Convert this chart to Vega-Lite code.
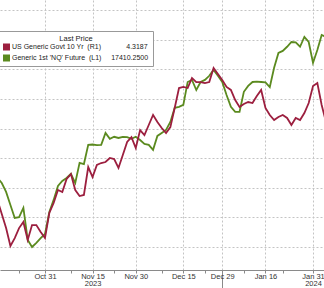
{
  "$schema": "https://vega.github.io/schema/vega-lite/v6.json",
  "width": 324,
  "height": 270,
  "autosize": {"type": "none"},
  "padding": {"left": 0, "top": 0, "right": 0, "bottom": 18},
  "background": "white",
  "config": {"view": {"stroke": null}, "font": "Liberation Sans"},
  "data": {"values": [
    {"d": "2023-10-16", "i": -11, "ust": 4.675, "nq": 15165},
    {"d": "2023-10-17", "i": -10, "ust": 4.769, "nq": 15080},
    {"d": "2023-10-18", "i": -9, "ust": 4.863, "nq": 14930},
    {"d": "2023-10-19", "i": -8, "ust": 4.983, "nq": 14710},
    {"d": "2023-10-20", "i": -7, "ust": 4.930, "nq": 14490},
    {"d": "2023-10-23", "i": -6, "ust": 4.863, "nq": 14505},
    {"d": "2023-10-24", "i": -5, "ust": 4.822, "nq": 14660},
    {"d": "2023-10-25", "i": -4, "ust": 4.943, "nq": 14120},
    {"d": "2023-10-26", "i": -3, "ust": 4.843, "nq": 14000},
    {"d": "2023-10-27", "i": -2, "ust": 4.843, "nq": 14070},
    {"d": "2023-10-30", "i": -1, "ust": 4.889, "nq": 14150},
    {"d": "2023-10-31", "i": 0, "ust": 4.930, "nq": 14220},
    {"d": "2023-11-01", "i": 1, "ust": 4.762, "nq": 14590},
    {"d": "2023-11-02", "i": 2, "ust": 4.695, "nq": 14795},
    {"d": "2023-11-03", "i": 3, "ust": 4.608, "nq": 15030},
    {"d": "2023-11-06", "i": 4, "ust": 4.621, "nq": 15115},
    {"d": "2023-11-07", "i": 5, "ust": 4.534, "nq": 15165},
    {"d": "2023-11-08", "i": 6, "ust": 4.501, "nq": 15235},
    {"d": "2023-11-09", "i": 7, "ust": 4.608, "nq": 15080},
    {"d": "2023-11-10", "i": 8, "ust": 4.648, "nq": 15420},
    {"d": "2023-11-13", "i": 9, "ust": 4.641, "nq": 15400},
    {"d": "2023-11-14", "i": 10, "ust": 4.454, "nq": 15725},
    {"d": "2023-11-15", "i": 11, "ust": 4.521, "nq": 15730},
    {"d": "2023-11-16", "i": 12, "ust": 4.440, "nq": 15720},
    {"d": "2023-11-17", "i": 13, "ust": 4.427, "nq": 15725},
    {"d": "2023-11-20", "i": 14, "ust": 4.420, "nq": 15925},
    {"d": "2023-11-21", "i": 15, "ust": 4.393, "nq": 15825},
    {"d": "2023-11-22", "i": 16, "ust": 4.400, "nq": 15860},
    {"d": "2023-11-24", "i": 17, "ust": 4.460, "nq": 15840},
    {"d": "2023-11-27", "i": 18, "ust": 4.373, "nq": 15860},
    {"d": "2023-11-28", "i": 19, "ust": 4.286, "nq": 15855},
    {"d": "2023-11-29", "i": 20, "ust": 4.253, "nq": 15825},
    {"d": "2023-11-30", "i": 21, "ust": 4.326, "nq": 15860},
    {"d": "2023-12-01", "i": 22, "ust": 4.206, "nq": 15805},
    {"d": "2023-12-04", "i": 23, "ust": 4.239, "nq": 15740},
    {"d": "2023-12-05", "i": 24, "ust": 4.172, "nq": 15725},
    {"d": "2023-12-06", "i": 25, "ust": 4.105, "nq": 15640},
    {"d": "2023-12-07", "i": 26, "ust": 4.152, "nq": 15875},
    {"d": "2023-12-08", "i": 27, "ust": 4.192, "nq": 15925},
    {"d": "2023-12-11", "i": 28, "ust": 4.226, "nq": 15975},
    {"d": "2023-12-12", "i": 29, "ust": 4.186, "nq": 16110},
    {"d": "2023-12-13", "i": 30, "ust": 4.058, "nq": 16350},
    {"d": "2023-12-14", "i": 31, "ust": 3.924, "nq": 16365},
    {"d": "2023-12-15", "i": 32, "ust": 3.917, "nq": 16400},
    {"d": "2023-12-18", "i": 33, "ust": 3.924, "nq": 16785},
    {"d": "2023-12-19", "i": 34, "ust": 3.857, "nq": 16820},
    {"d": "2023-12-20", "i": 35, "ust": 3.884, "nq": 16650},
    {"d": "2023-12-21", "i": 36, "ust": 3.884, "nq": 16785},
    {"d": "2023-12-22", "i": 37, "ust": 3.891, "nq": 16820},
    {"d": "2023-12-26", "i": 38, "ust": 3.884, "nq": 16890},
    {"d": "2023-12-27", "i": 39, "ust": 3.790, "nq": 16990},
    {"d": "2023-12-28", "i": 40, "ust": 3.830, "nq": 16890},
    {"d": "2023-12-29", "i": 41, "ust": 3.870, "nq": 16785},
    {"d": "2024-01-02", "i": 42, "ust": 3.917, "nq": 16565},
    {"d": "2024-01-03", "i": 43, "ust": 3.937, "nq": 16365},
    {"d": "2024-01-04", "i": 44, "ust": 4.005, "nq": 16280},
    {"d": "2024-01-05", "i": 45, "ust": 4.051, "nq": 16280},
    {"d": "2024-01-08", "i": 46, "ust": 4.031, "nq": 16620},
    {"d": "2024-01-09", "i": 47, "ust": 4.018, "nq": 16720},
    {"d": "2024-01-10", "i": 48, "ust": 4.025, "nq": 16785},
    {"d": "2024-01-11", "i": 49, "ust": 3.978, "nq": 16790},
    {"d": "2024-01-12", "i": 50, "ust": 3.937, "nq": 16785},
    {"d": "2024-01-16", "i": 51, "ust": 4.058, "nq": 16780},
    {"d": "2024-01-17", "i": 52, "ust": 4.105, "nq": 16700},
    {"d": "2024-01-18", "i": 53, "ust": 4.139, "nq": 17025},
    {"d": "2024-01-19", "i": 54, "ust": 4.118, "nq": 17275},
    {"d": "2024-01-22", "i": 55, "ust": 4.105, "nq": 17310},
    {"d": "2024-01-23", "i": 56, "ust": 4.125, "nq": 17380},
    {"d": "2024-01-24", "i": 57, "ust": 4.172, "nq": 17460},
    {"d": "2024-01-25", "i": 58, "ust": 4.125, "nq": 17455},
    {"d": "2024-01-26", "i": 59, "ust": 4.139, "nq": 17380},
    {"d": "2024-01-29", "i": 60, "ust": 4.092, "nq": 17545},
    {"d": "2024-01-30", "i": 61, "ust": 4.025, "nq": 17460},
    {"d": "2024-01-31", "i": 62, "ust": 3.911, "nq": 17110},
    {"d": "2024-02-01", "i": 63, "ust": 3.891, "nq": 17325},
    {"d": "2024-02-02", "i": 64, "ust": 4.038, "nq": 17580},
    {"d": "2024-02-05", "i": 65, "ust": 4.152, "nq": 17545}
  ]},
  "encoding": {
    "x": {
      "field": "i",
      "type": "quantitative",
      "scale": {"domain": [-10.41, 64.54], "nice": false, "zero": false},
      "axis": {
        "title": null,
        "values": [-12, 0, 11, 21, 32, 41, 51, 62, -6, 6, 16, 27, 37, 46, 55],
        "grid": true,
        "gridColor": "#c4c4c4",
        "gridDash": [2, 2],
        "gridWidth": 1,
        "gridOpacity": {"condition": {"test": "indexof([-12,0,11,21,32,41,51,62], datum.value) >= 0", "value": 1}, "value": 0},
        "labelExpr": "datum.value == -12 ? 'Oct 13' : datum.value == 0 ? 'Oct 31' : datum.value == 11 ? ['Nov 15', '2023'] : datum.value == 21 ? 'Nov 30' : datum.value == 32 ? 'Dec 15' : datum.value == 41 ? 'Dec 29' : datum.value == 51 ? 'Jan 16' : datum.value == 62 ? ['Jan 31', '2024'] : ''",
        "labelFontSize": 7.5,
        "labelColor": "#333",
        "labelPadding": {"condition": {"test": "datum.value == 41", "value": -16}, "value": -1},
        "labelLineHeight": 7.5,
        "labelOverlap": false,
        "labelFlush": false,
        "labelBound": false,
        "domainColor": "#8a8a8a",
        "tickColor": "#8a8a8a",
        "tickSize": {"condition": {"test": "datum.value == 41", "value": 18}, "value": 3}
      }
    }
  },
  "layer": [
    {
      "mark": {"type": "line", "clip": true, "strokeWidth": 1.8},
      "encoding": {
        "y": {
          "field": "nq",
          "type": "quantitative",
          "scale": {"domain": [13612, 18169], "nice": false, "zero": false},
          "axis": {
            "title": null,
            "values": [14000, 14500, 15000, 15500, 16000, 16500, 17000, 17500, 18000],
            "grid": true,
            "gridColor": "#c4c4c4",
            "gridDash": [2, 2],
            "labels": false,
            "ticks": false,
            "domain": false
          }
        },
        "color": {
          "datum": "Generic 1st 'NQ' Future  (L1)",
          "type": "nominal",
          "scale": {
            "domain": ["US Generic Govt 10 Yr  (R1)", "Generic 1st 'NQ' Future  (L1)"],
            "range": ["#9c1f3f", "#5b8a1f"]
          },
          "legend": {
            "orient": "none",
            "legendX": -1,
            "legendY": 31,
            "direction": "vertical",
            "title": "Last Price",
            "titleAnchor": "middle",
            "titleFontSize": 7.5,
            "titleFontWeight": "normal",
            "titleColor": "#222",
            "titlePadding": 1,
            "fillColor": "white",
            "strokeColor": "#999",
            "padding": 4,
            "symbolType": "square",
            "symbolSize": 49,
            "symbolStrokeWidth": 0,
            "labelFontSize": 7,
            "labelColor": "#222",
            "labelOffset": 2,
            "labelLimit": 300,
            "rowPadding": 3,
            "labelExpr": "datum.index == 0 ? 'US Generic Govt 10 Yr\u00a0\u00a0(R1)\u00a0\u00a0\u00a0\u00a0\u00a0\u00a0\u00a0\u00a0\u00a0\u00a0\u00a0\u00a0\u00a04.3187' : 'Generic 1st \\'NQ\\' Future\u00a0\u00a0(L1)\u00a0\u00a0\u00a0\u00a0\u00a017410.2500'",
            "encode": {"symbols": {"update": {"fill": {"scale": "color", "field": "value"}, "stroke": {"value": "transparent"}}}}
          }
        }
      }
    },
    {
      "mark": {"type": "line", "clip": true, "strokeWidth": 1.8},
      "encoding": {
        "y": {
          "field": "ust",
          "type": "quantitative",
          "scale": {"domain": [3.334, 5.144], "reverse": true, "nice": false, "zero": false},
          "axis": null
        },
        "color": {"datum": "US Generic Govt 10 Yr  (R1)", "type": "nominal"}
      }
    }
  ],
  "resolve": {"scale": {"y": "independent"}}
}
